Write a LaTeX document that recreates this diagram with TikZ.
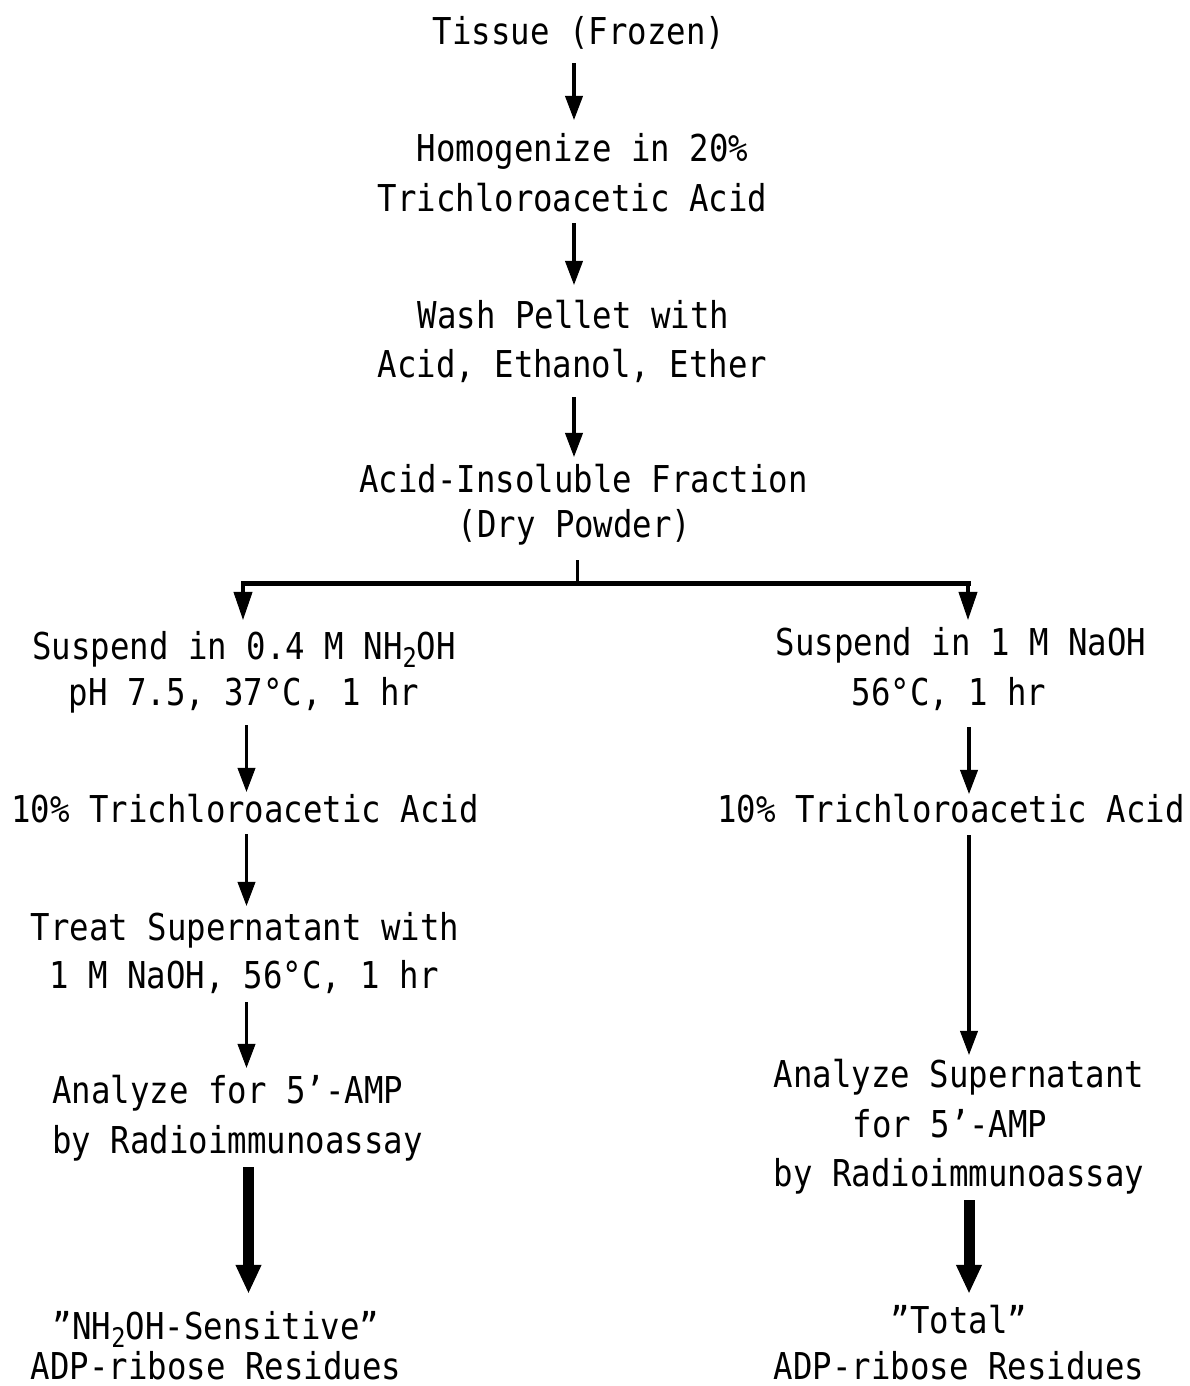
\documentclass[tikz,border=0pt]{standalone}
\usepackage{fontspec}
\usetikzlibrary{arrows.meta}
\newfontfamily\twfont[FakeStretch=0.875]{DejaVu Sans Mono}
\newcommand\subtwo{\raisebox{-8pt}{\fontsize{27}{27}\selectfont 2}}
\begin{document}
\begin{tikzpicture}[x=1pt,y=-1pt,
  txt/.style={font=\twfont\fontsize{37}{37}\selectfont, inner sep=0pt, text height=28pt, text depth=8pt, anchor=base},
  lastline/.style={text depth=0pt},
  arr/.style={line width=3.5pt, -{Triangle[length=24pt,width=18pt,line width=1pt]}},
  barr/.style={line width=4pt, -{Triangle[length=28pt,width=19pt,line width=1pt]}},
  tarr/.style={line width=11pt, -{Triangle[length=28pt,width=26pt,line width=1pt]}}]
\fill[white] (0,0) rectangle (1190,1386);
\useasboundingbox (0,0) rectangle (1190,1386);
% column x positions
\coordinate (cM) at (574,0);
\coordinate (cL) at (246.5,0);
\coordinate (cLt) at (248.5,0);
\coordinate (cR) at (969,0);
% centre column
\node[txt] (t1) at (579,45) {Tissue (Frozen)};
\node[txt] (h1) at (582.5,161) {Homogenize in 20\%};
\node[txt] (h2) at (572.5,211) {Trichloroacetic Acid};
\node[txt] (w1) at (573.5,328) {Wash Pellet with};
\node[txt] (w2) at (572.5,377) {Acid, Ethanol, Ether};
\node[txt] (f1) at (583.5,492) {Acid-Insoluble Fraction};
\node[txt] (f2) at (574.5,537) {(Dry Powder)};
% left column
\node[txt] (ls1) at (244,659) {Suspend in 0.4 M NH\subtwo OH};
\node[txt] (ls2) at (244,705) {pH 7.5, 37°C, 1 hr};
\node[txt] (lt) at (245,822) {10\% Trichloroacetic Acid};
\node[txt] (lr1) at (245,940) {Treat Supernatant with};
\node[txt] (lr2) at (244,988) {1 M NaOH, 56°C, 1 hr};
\node[txt, anchor=base west] (la1) at (52,1103) {Analyze for 5’-AMP};
\node[txt, anchor=base west] (la2) at (52,1153) {by Radioimmunoassay};
\node[txt] (lo1) at (216,1339) {”NH\subtwo OH-Sensitive”};
\node[txt, lastline] (lo2) at (216,1379) {ADP-ribose Residues};
% right column
\node[txt] (rs1) at (961,655) {Suspend in 1 M NaOH};
\node[txt] (rs2) at (949,705) {56°C, 1 hr};
\node[txt] (rt) at (951,822) {10\% Trichloroacetic Acid};
\node[txt] (ra1) at (959,1087) {Analyze Supernatant};
\node[txt] (ra2) at (950,1137) {for 5’-AMP};
\node[txt] (ra3) at (959,1186) {by Radioimmunoassay};
\node[txt] (ro1) at (959,1333) {”Total”};
\node[txt, lastline] (ro2) at (959,1379) {ADP-ribose Residues};
% centre arrows
\draw[arr, shorten <=10pt, shorten >=13pt] (t1.south -| cM) -- (h1.north -| cM);
\draw[arr, shorten <=4pt, shorten >=15pt] (h2.south -| cM) -- (w1.north -| cM);
\draw[arr, shorten <=12pt, shorten >=7pt] (w2.south -| cM) -- (f1.north -| cM);
% branch
\coordinate (bj) at (577,583);
\coordinate (bl) at (243,583);
\coordinate (br) at (968,583);
\draw[line width=3pt, shorten <=15pt] (f2.south -| bj) -- (bj);
\draw[line width=5pt, line cap=rect] (bl) -- (br);
\draw[barr, shorten >=11pt] (bl) -- (ls1.north -| bl);
\draw[barr, shorten >=7pt] (br) -- (rs1.north -| br);
% left arrows
\draw[arr, shorten <=12pt, shorten >=2pt] (ls2.south -| cL) -- (lt.north -| cL);
\draw[arr, shorten <=4pt, shorten >=6pt] (lt.south -| cL) -- (lr1.north -| cL);
\draw[arr, shorten <=6pt, shorten >=7pt] (lr2.south -| cL) -- (la1.north -| cL);
\draw[tarr, shorten <=6pt, shorten >=18pt] (la2.south -| cLt) -- (lo1.north -| cLt);
% right arrows
\draw[arr, shorten <=14pt, shorten >=0pt] (rs2.south -| cR) -- (rt.north -| cR);
\draw[arr, shorten <=5pt, shorten >=4pt] (rt.south -| cR) -- (ra1.north -| cR);
\draw[tarr, shorten <=6pt, shorten >=12pt] (ra3.south -| cR) -- (ro1.north -| cR);
\end{tikzpicture}
\end{document}
